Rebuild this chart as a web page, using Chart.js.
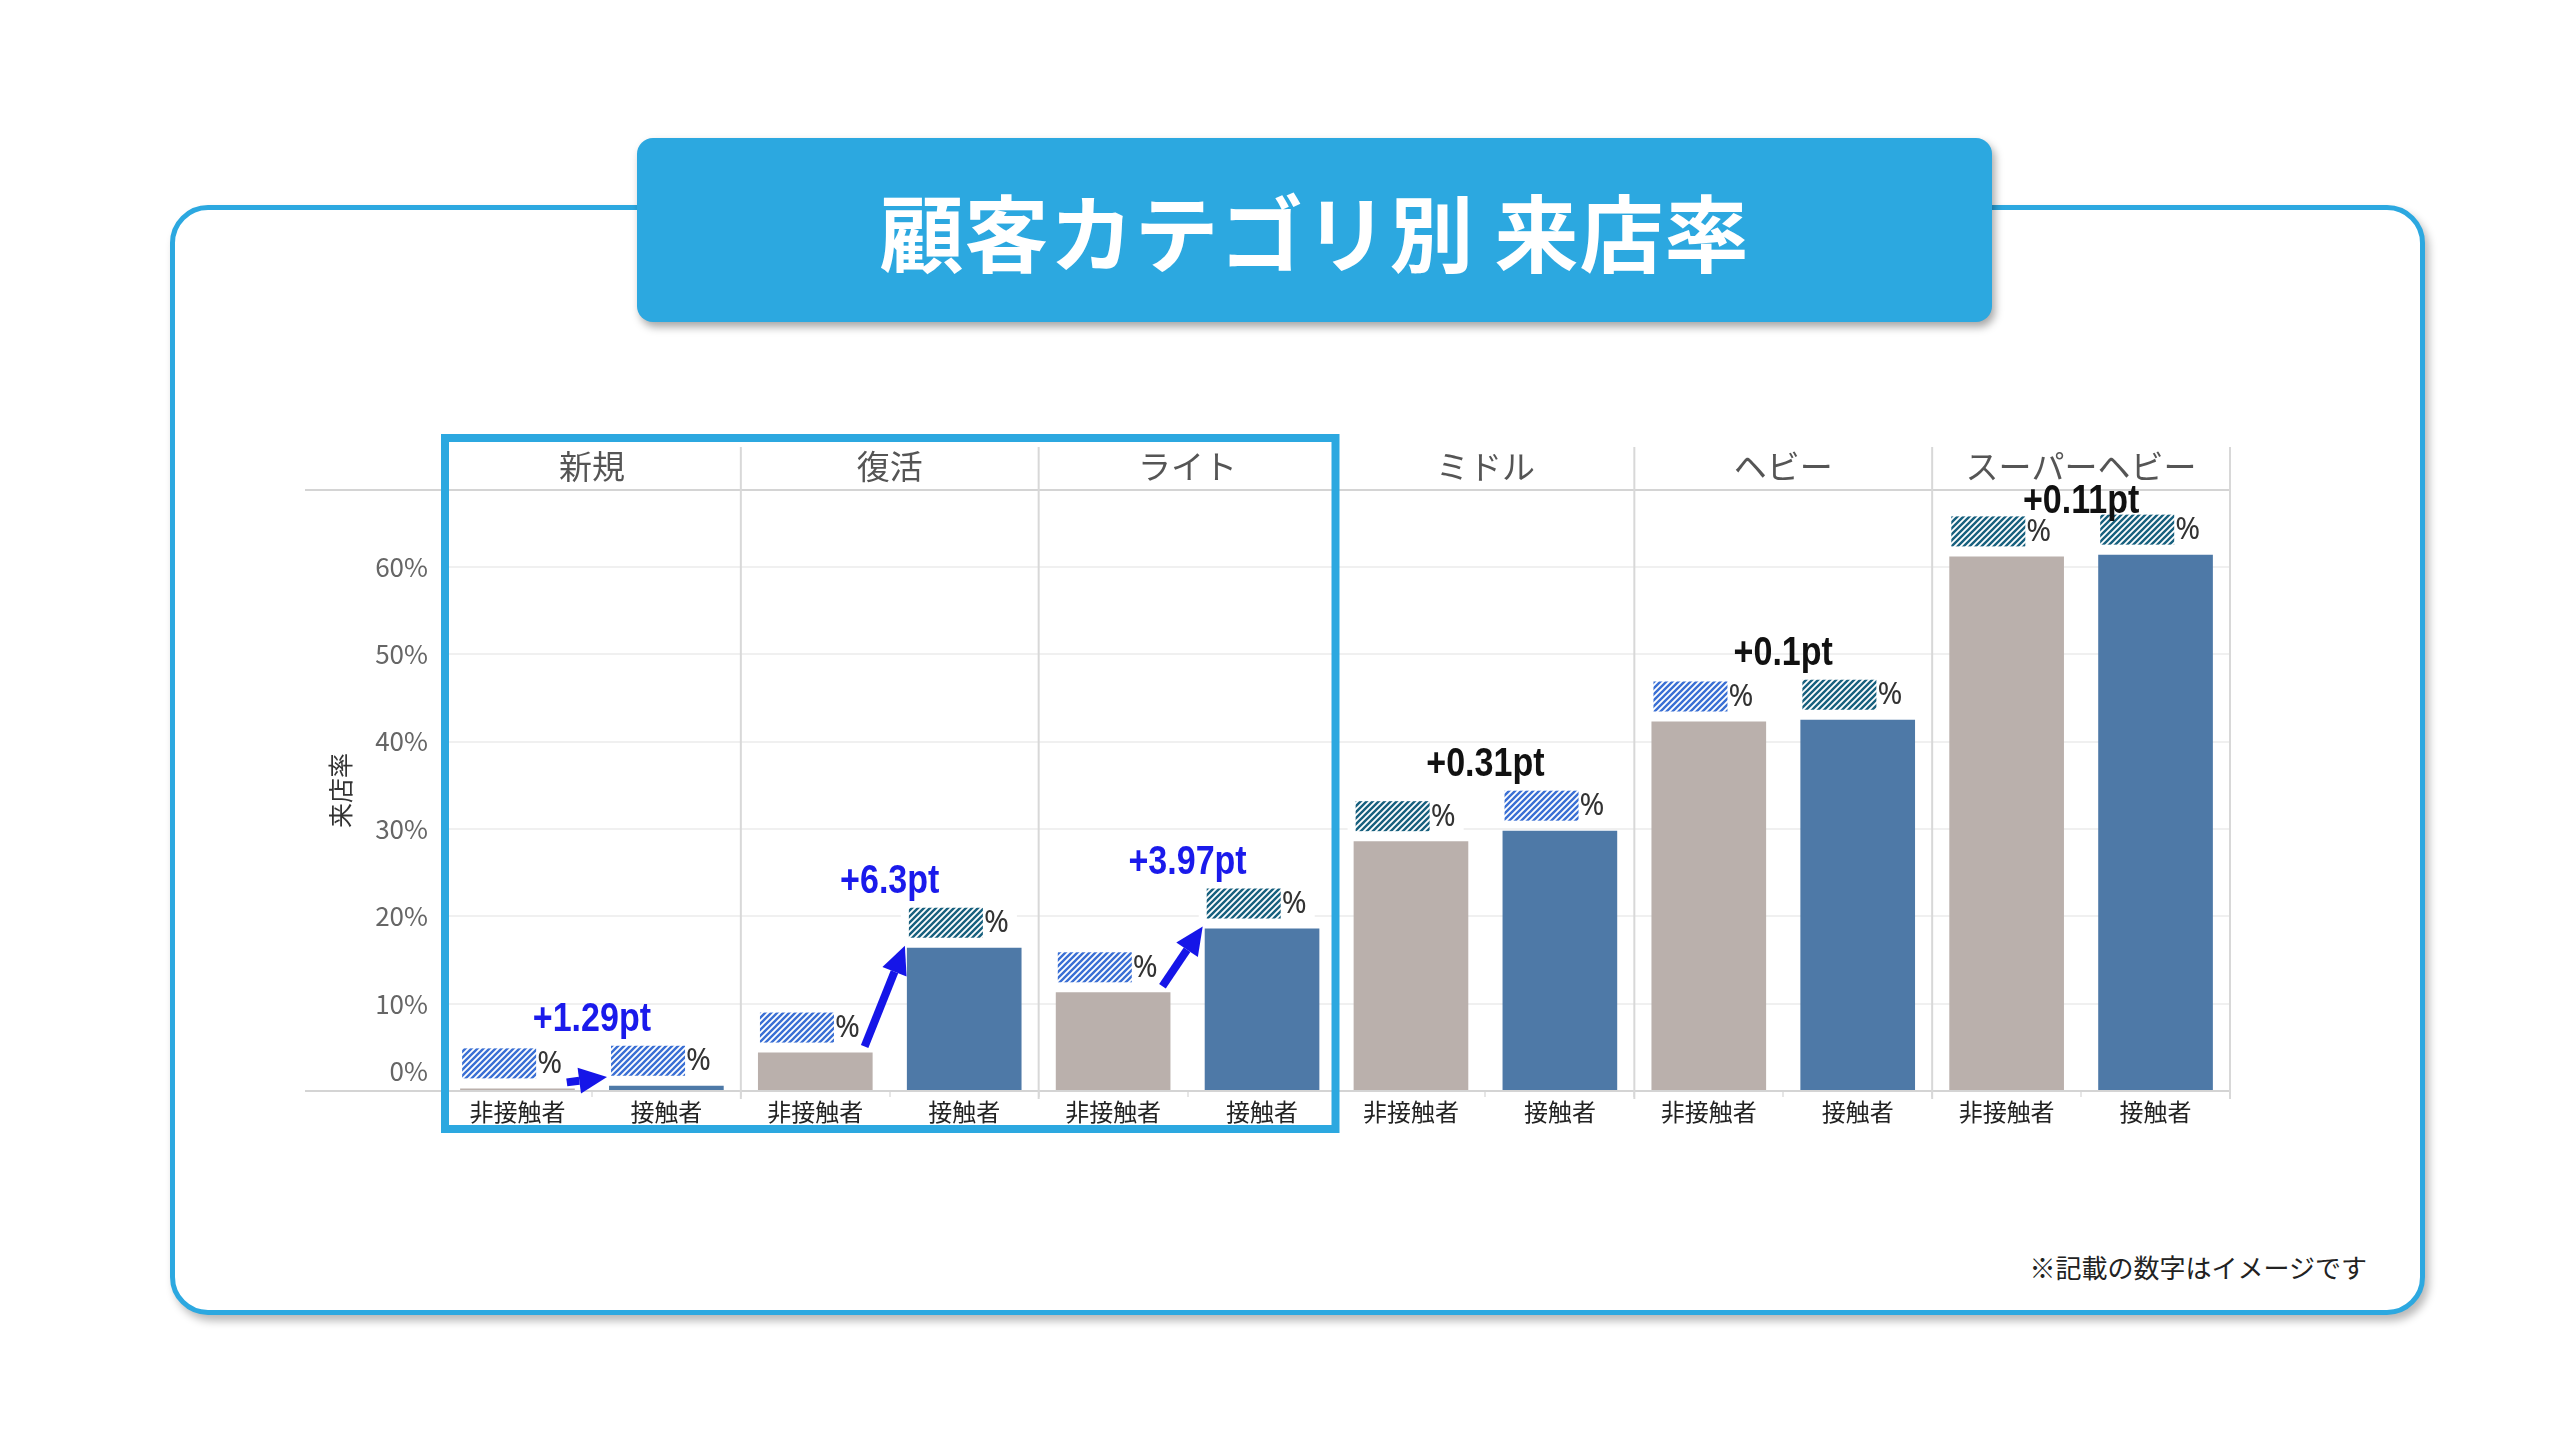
<!DOCTYPE html>
<html lang="ja">
<head>
<meta charset="utf-8">
<title>顧客カテゴリ別 来店率</title>
<script src="https://cdn.jsdelivr.net/npm/chart.js@4.4.1/dist/chart.umd.min.js"></script>
<style>
  html, body { margin: 0; padding: 0; background: #fff; }
  body { width: 2560px; height: 1440px; position: relative; overflow: hidden;
         font-family: "Noto Sans CJK JP", "Noto Sans", sans-serif; }
  .frame { position: absolute; left: 170px; top: 205px; width: 2255px; height: 1110px;
           box-sizing: border-box; border: 5px solid #2ca8e0; border-radius: 38px;
           box-shadow: 4px 6px 8px rgba(0,0,0,0.28); background: #fff; }
  .title { position: absolute; left: 637px; top: 138px; width: 1355px; height: 184px;
           background: #2ca8e0; border-radius: 16px; box-shadow: 3px 5px 8px rgba(0,0,0,0.35);
           color: #fff; font-weight: bold; font-size: 84px; line-height: 184px; text-align: center;
           letter-spacing: 1px; }
  .chart-wrap { position: absolute; left: 290px; top: 420px; width: 1970px; height: 730px; }
  .note { position: absolute; right: 193px; top: 1252px; font-size: 26px; line-height: 30px; color: #222; }
</style>
</head>
<body>
<div class="frame"></div>
<div class="title">顧客カテゴリ別 来店率</div>
<div class="chart-wrap"><canvas id="rateChart" width="1970" height="730"></canvas></div>
<div class="note">※記載の数字はイメージです</div>

<script>
// data
const groups = ["新規", "復活", "ライト", "ミドル", "ヘビー", "スーパーヘビー"];
const segments = ["非接触者", "接触者"];
const nonContactRate = [0.3, 4.4, 11.3, 28.6, 42.3, 61.2];
const contactRate = [0.6, 16.4, 18.6, 29.8, 42.5, 61.4];
const diffPt = [1.29, 6.3, 3.97, 0.31, 0.1, 0.11];
const yTicks = [0, 10, 20, 30, 40, 50, 60];
const yMax = 68.8;

// styles
const GRAY = "#bab0ac";
const BLUE = "#4e79a7";
const FRAME_BLUE = "#2ca8e0";
const ARROW_BLUE = "#1515e8";
const highlightGroups = 3;
const hatchTone = ["blue", "blue", "blue", "dark", "blue", "dark", "dark", "blue", "blue", "dark", "dark", "dark"];

Chart.defaults.font.family = '"Noto Sans CJK JP", "Noto Sans", sans-serif';

const barLabels = groups.flatMap(() => segments);
const barValues = groups.flatMap((g, i) => [nonContactRate[i], contactRate[i]]);
const barColors = groups.flatMap(() => [GRAY, BLUE]);

function makeHatch(ctx, color) {
  const c = document.createElement("canvas");
  c.width = 6; c.height = 6;
  const g = c.getContext("2d");
  g.strokeStyle = color;
  g.lineWidth = 2.4;
  g.beginPath();
  g.moveTo(0, 6); g.lineTo(6, 0);
  g.moveTo(-3, 3); g.lineTo(3, -3);
  g.moveTo(3, 9); g.lineTo(9, 3);
  g.stroke();
  return ctx.createPattern(c, "repeat");
}

function drawArrow(ctx, x1, y1, x2, y2) {
  const a = Math.atan2(y2 - y1, x2 - x1);
  const head = 28, half = 13;
  const bx = x2 - head * Math.cos(a), by = y2 - head * Math.sin(a);
  ctx.strokeStyle = ARROW_BLUE;
  ctx.fillStyle = ARROW_BLUE;
  ctx.lineWidth = 8;
  ctx.beginPath(); ctx.moveTo(x1, y1); ctx.lineTo(bx, by); ctx.stroke();
  ctx.beginPath();
  ctx.moveTo(x2, y2);
  ctx.lineTo(bx + half * Math.sin(a), by - half * Math.cos(a));
  ctx.lineTo(bx - half * Math.sin(a), by + half * Math.cos(a));
  ctx.closePath();
  ctx.fill();
}

// narrow bold text, squeezed sideways like the original labels
function narrowText(ctx, text, x, y, color) {
  ctx.save();
  ctx.translate(x, y);
  ctx.scale(0.83, 1);
  ctx.font = 'bold 41px "Liberation Sans", "DejaVu Sans", sans-serif';
  ctx.textAlign = "center";
  ctx.textBaseline = "middle";
  ctx.fillStyle = color;
  ctx.fillText(text, 0, 0);
  ctx.restore();
}

const decorPlugin = {
  id: "decor",
  beforeDatasetsDraw(chart) {
    const { ctx, chartArea: a } = chart;
    const step = (a.right - a.left) / groups.length;
    ctx.save();
    ctx.strokeStyle = "#d8d8d8";
    ctx.lineWidth = 2;
    for (let i = 0; i <= groups.length; i++) {
      const x = a.left + i * step;
      ctx.beginPath(); ctx.moveTo(x, a.top - 43); ctx.lineTo(x, a.bottom + 8); ctx.stroke();
    }
    // header line and base line run on to the left of the panels
    ctx.strokeStyle = "#d4d4d4";
    [a.top, a.bottom].forEach(y => {
      ctx.beginPath(); ctx.moveTo(15, y); ctx.lineTo(a.left, y); ctx.stroke();
    });
    // the 0% label sits a little above the base line
    const ys = chart.scales.y;
    ctx.fillStyle = "#666";
    ctx.font = '26px "Noto Sans CJK JP", "Noto Sans", sans-serif';
    ctx.textAlign = "right";
    ctx.textBaseline = "middle";
    ctx.fillText(yTicks[0] + "%", a.left - 15, ys.getPixelForValue(yTicks[0]) - 20);
    ctx.restore();
  },
  afterDatasetsDraw(chart) {
    const { ctx, chartArea: a } = chart;
    const step = (a.right - a.left) / groups.length;
    const bars = chart.getDatasetMeta(0).data;
    const hatch = { blue: makeHatch(ctx, "#3a6fd4"), dark: makeHatch(ctx, "#17607e") };
    ctx.save();

    // hidden value labels
    bars.forEach((bar, i) => {
      const left = bar.x - bar.width / 2 + 2;
      const top = bar.y - 40;
      ctx.fillStyle = "#fff";
      ctx.fillRect(left - 8, top - 3, 116, 36);
      ctx.fillStyle = hatch[hatchTone[i]];
      ctx.fillRect(left, top, 74, 30);
      ctx.fillStyle = "#333";
      ctx.font = '30px "Noto Sans", sans-serif';
      ctx.textAlign = "left";
      ctx.textBaseline = "middle";
      ctx.fillText("%", left + 75, top + 16);
    });

    // difference labels and arrows
    groups.forEach((g, gi) => {
      const gray = bars[gi * 2], blue = bars[gi * 2 + 1];
      const cx = a.left + (gi + 0.5) * step;
      const y = Math.max(a.top + 12, Math.min(gray.y, blue.y) - 66);
      narrowText(ctx, "+" + diffPt[gi] + "pt", cx, y, gi < highlightGroups ? "#1a1aeb" : "#111");
      if (gi < highlightGroups) {
        drawArrow(ctx, gray.x + gray.width / 2 - 8, gray.y - 6,
                  blue.x - blue.width / 2 - 2, Math.min(blue.y - 2, a.bottom - 14));
      }
    });

    // highlight frame round the first panels
    ctx.strokeStyle = FRAME_BLUE;
    ctx.lineWidth = 8;
    ctx.strokeRect(a.left + 2, a.top - 52, highlightGroups * step - 3, a.bottom - a.top + 90);
    ctx.restore();
  }
};

new Chart(document.getElementById("rateChart"), {
  type: "bar",
  data: {
    labels: barLabels,
    datasets: [{
      data: barValues,
      backgroundColor: barColors,
      categoryPercentage: 1,
      barPercentage: 0.77
    }]
  },
  options: {
    responsive: false,
    animation: false,
    layout: { padding: { left: 0, right: 30, top: 0, bottom: 0 } },
    plugins: { legend: { display: false }, tooltip: { enabled: false } },
    scales: {
      x: {
        offset: true,
        grid: { display: true, offset: true, drawOnChartArea: false, drawTicks: true, tickLength: 6, color: "#e6e6e6", lineWidth: 2 },
        border: { display: true, color: "#d4d4d4", width: 2 },
        ticks: { color: "#222", font: { size: 24 }, padding: 0, maxRotation: 0, autoSkip: false },
        afterFit: s => { s.height = 59; }
      },
      x2: {
        type: "category",
        labels: groups,
        position: "top",
        offset: true,
        grid: { display: false, drawTicks: false },
        border: { display: true, color: "#d4d4d4", width: 2 },
        ticks: { color: "#555", font: { size: 33 }, padding: 4, maxRotation: 0, autoSkip: false },
        afterFit: s => { s.height = 70; }
      },
      y: {
        min: 0,
        max: yMax,
        afterBuildTicks: s => { s.ticks = yTicks.map(v => ({ value: v })); },
        grid: { color: "#f0f0f0", lineWidth: 2, drawTicks: false },
        border: { display: false },
        ticks: { color: "#666", font: { size: 26 }, padding: 15, callback: v => (v === yTicks[0] ? "" : v + "%") },
        title: { display: true, text: "来店率", color: "#333", font: { size: 25 }, padding: { top: 35, bottom: 0 } },
        afterFit: s => { s.width = 153; }
      }
    }
  },
  plugins: [decorPlugin]
});
</script>
</body>
</html>
